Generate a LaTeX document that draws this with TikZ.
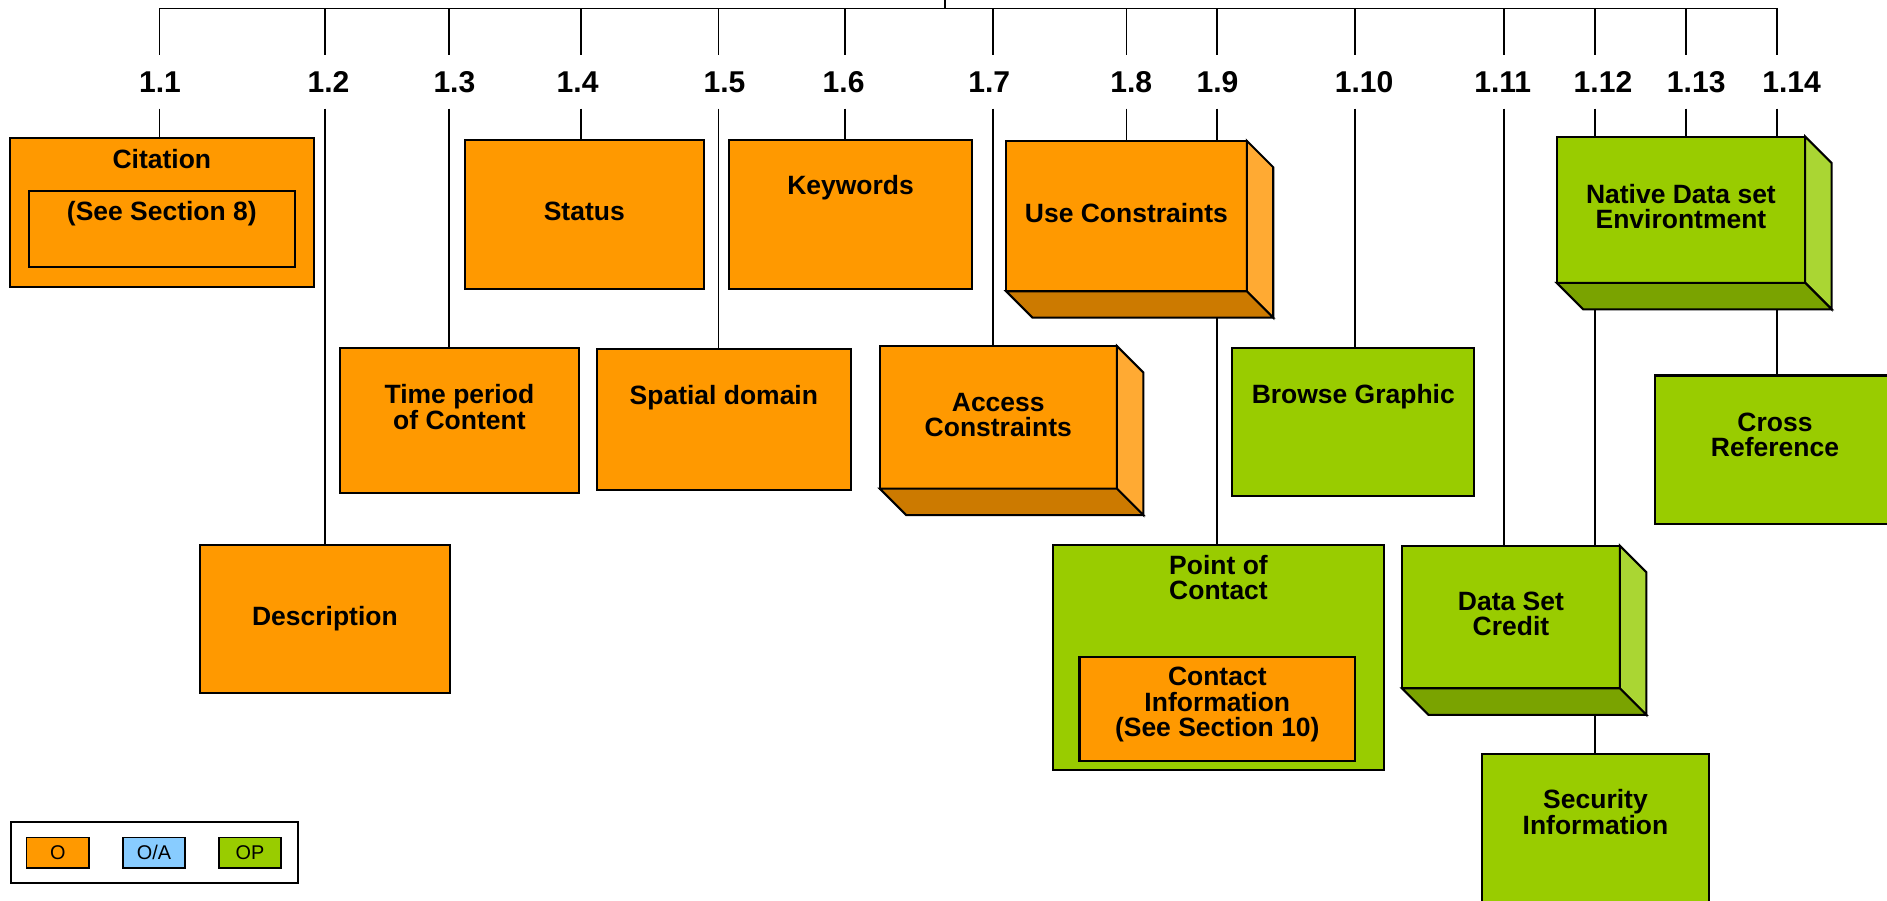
\documentclass[tikz,border=0pt]{standalone}
\usepackage{fontspec}
\setmainfont{Liberation Sans}
\usetikzlibrary{backgrounds}
\definecolor{org}{HTML}{FF9900}
\definecolor{orgR}{HTML}{FFAA33}
\definecolor{orgB}{HTML}{CC7A00}
\definecolor{grn}{HTML}{99CC00}
\definecolor{grnR}{HTML}{AAD633}
\definecolor{grnB}{HTML}{7AA300}
\definecolor{lblue}{HTML}{88CCFF}
\tikzset{
  box/.style={draw=black, line width=1.7pt, rectangle, inner sep=0pt, outer sep=0pt, anchor=north west},
  obox/.style={box, fill=org},
  gbox/.style={box, fill=grn},
  txt/.style={font=\fontsize{22}{21}\selectfont\bfseries, align=center, anchor=base, inner sep=0pt},
  lab/.style={font=\fontsize{25}{25}\selectfont\bfseries, inner sep=0pt, minimum height=44pt, anchor=center},
  conn/.style={line width=1.4pt, draw=black},
  face/.style={draw=black, line width=1.7pt, line join=miter},
  swatch/.style={draw=black, line width=1.4pt, inner sep=0pt, outer sep=0pt, anchor=north west,
    minimum height=25pt, font=\fontsize{16.5}{16.5}\selectfont},
}
\newcommand\depthfaces[3]{%
  \filldraw[face, fill=#2] (#1.north east) -- ++(22,22) -- ([shift={(22,22)}]#1.south east) -- (#1.south east) -- cycle;
  \filldraw[face, fill=#3] (#1.south west) -- (#1.south east) -- ++(22,22) -- ([shift={(22,22)}]#1.south west) -- cycle;
}
\begin{document}
\begin{tikzpicture}[x=1pt, y=-1pt]
\useasboundingbox (0,0) rectangle (1568,748);
\clip (0,0) rectangle (1568,748);

% tree coordinates
\coordinate (root) at (785,0);
\coordinate (t11) at (132.5,7);
\coordinate (t12) at (270,7);
\coordinate (t13) at (373,7);
\coordinate (t14) at (483,7);
\coordinate (t15) at (597,7);
\coordinate (t16) at (702,7);
\coordinate (t17) at (825,7);
\coordinate (t18) at (936,7);
\coordinate (t19) at (1011,7);
\coordinate (t110) at (1126,7);
\coordinate (t111) at (1250,7);
\coordinate (t112) at (1325.6,7);
\coordinate (t113) at (1401,7);
\coordinate (t114) at (1476.6,7);

% labels
\node[lab] (l11) at (133,68) {1.1};
\node[lab] (l12) at (273,68) {1.2};
\node[lab] (l13) at (377.6,68) {1.3};
\node[lab] (l14) at (480,68) {1.4};
\node[lab] (l15) at (602,68) {1.5};
\node[lab] (l16) at (701,68) {1.6};
\node[lab] (l17) at (822,68) {1.7};
\node[lab] (l18) at (940,68) {1.8};
\node[lab] (l19) at (1011.7,68) {1.9};
\node[lab] (l110) at (1133.5,68) {1.10};
\node[lab] (l111) at (1248.7,68) {1.11};
\node[lab] (l112) at (1332,68) {1.12};
\node[lab] (l113) at (1409.5,68) {1.13};
\node[lab] (l114) at (1488.7,68) {1.14};

% boxes
\node[obox, minimum width=253, minimum height=123.5] (cit) at (8,115) {};
\node[obox, minimum width=221, minimum height=63] (citin) at (24,159) {};
\node[obox, minimum width=199, minimum height=124] (status) at (386,116) {};
\node[obox, minimum width=202.5, minimum height=124] (keyw) at (605.5,116) {};
\node[obox, minimum width=200, minimum height=125] (use) at (836,117) {};
\depthfaces{use}{orgR}{orgB}
\node[obox, minimum width=198.5, minimum height=120.5] (time) at (282.5,289.5) {};
\node[obox, minimum width=208, minimum height=123] (desc) at (166,453) {};
\node[obox, minimum width=211, minimum height=117.5] (spatial) at (496,290) {};
\node[obox, minimum width=197, minimum height=118.5] (access) at (731,287.5) {};
\depthfaces{access}{orgR}{orgB}
\node[gbox, minimum width=201, minimum height=123] (browse) at (1024,289.5) {};
\node[gbox, minimum width=275, minimum height=187] (poc) at (875,453) {};
\node[obox, minimum width=229, minimum height=86] (pocin) at (897,546) {};
\node[gbox, minimum width=181, minimum height=118.5] (credit) at (1165,453.5) {};
\depthfaces{credit}{grnR}{grnB}
\node[gbox, minimum width=206.5, minimum height=121.5] (native) at (1293.5,113.5) {};
\depthfaces{native}{grnR}{grnB}
\node[gbox, minimum width=200, minimum height=123.5] (cross) at (1375,312) {};
\node[gbox, minimum width=188.5, minimum height=140] (sec) at (1231.5,626.5) {};

% texts (anchor = baseline of last line)
\node[txt] (citT) at (134.5,140) {Citation};
\node[txt] (citinT) at (134.5,183) {(See Section 8)};
\node[txt] (statusT) at (485.5,183.4) {Status};
\node[txt] (keywT) at (706.75,161.5) {Keywords};
\node[txt] (useT) at (936,184.7) {Use Constraints};
\node[txt] (timeT) at (381.75,356.5) {Time period\\of Content};
\node[txt] (descT) at (270,520) {Description};
\node[txt] (spatialT) at (601.5,336) {Spatial domain};
\node[txt] (accessT) at (829.5,363) {Access\\Constraints};
\node[txt] (browseT) at (1124.5,335) {Browse Graphic};
\node[txt] (pocT) at (1012.5,498) {Point of\\Contact};
\node[txt] (pocinT) at (1011.5,612) {Contact\\Information\\(See Section 10)};
\node[txt] (creditT) at (1255.5,528.2) {Data Set\\Credit};
\node[txt] (nativeT) at (1396.75,189.7) {Native Data set\\Environtment};
\node[txt] (crossT) at (1474.9,379.4) {Cross\\Reference};
\node[txt] (secT) at (1325.75,693) {Security\\Information};

% legend
\node[box, fill=white, minimum width=238.5, minimum height=51] (legend) at (9,683) {};
\node[swatch, fill=org, minimum width=52] (lgO) at (22,696) {O};
\node[swatch, fill=lblue, minimum width=52] (lgOA) at (102,696) {O/A};
\node[swatch, fill=grn, minimum width=51.5] (lgOP) at (182,696) {OP};

% connectors
\begin{pgfonlayer}{background}
\draw[conn] (root) -- (root |- t11);
\draw[conn] (t11) -- (t114);
\foreach \k/\b in {11/cit,12/desc,13/time,14/status,15/spatial,16/keyw,17/access,18/use,19/use,110/browse,111/credit,112/native,113/native,114/native}{
  \draw[conn] (t\k) -- (t\k |- l\k.north);
  \draw[conn] (t\k |- l\k.south) -- (t\k |- \b.north);
}
\draw[conn] (t19 |- use.center) -- (t19 |- poc.north);
\draw[conn] (t112 |- native.center) -- (t112 |- credit.north);
\draw[conn] (t112 |- credit.center) -- (t112 |- sec.north);
\draw[conn] (t114 |- native.center) -- (t114 |- cross.north);
\end{pgfonlayer}
\end{tikzpicture}
\end{document}
